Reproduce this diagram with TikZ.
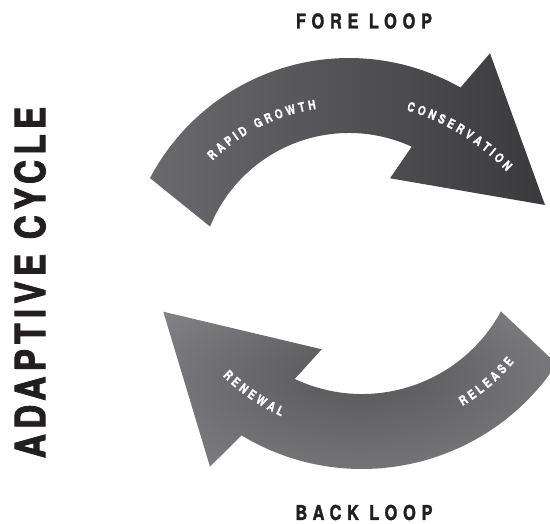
\documentclass[tikz,border=0pt]{standalone}
\usepackage{fontspec}
\usetikzlibrary{decorations.text}
\newfontfamily\titlefont[FakeStretch=0.8,LetterSpace=28,FakeBold=1.5]{TeX Gyre Heros}
\newfontfamily\sidefont[FakeStretch=0.8,LetterSpace=12.5,FakeBold=2]{TeX Gyre Heros}
\newfontfamily\lblfont[FakeStretch=0.8,FakeBold=1.2]{TeX Gyre Heros}
\newcommand\lblfmt{\lblfont\bfseries\fontsize{12.8}{14}\selectfont\kern3.3pt}
\definecolor{ua}{RGB}{106,106,110}
\definecolor{ub}{RGB}{58,58,60}
\definecolor{la}{RGB}{154,154,158}
\definecolor{ld}{RGB}{94,94,97}
\definecolor{ink}{RGB}{35,31,32}
\pgfdeclareradialshading{lowshade}{\pgfpoint{0bp}{10bp}}{color(0bp)=(ld); color(6bp)=(ld); color(50bp)=(la)}
\begin{document}
\begin{tikzpicture}[x=1pt,y=1pt,
  titlestyle/.style={inner sep=0pt,text=ink,font=\titlefont\bfseries\fontsize{20.5}{22}\selectfont},
  sidestyle/.style={inner sep=0pt,text=ink,rotate=90,font=\sidefont\bfseries\fontsize{41.8}{46}\selectfont},
  lbltext/.style={decorate,decoration={text along path,text color=white,text align=center,text={#1}}}]
\useasboundingbox (0,0) rectangle (550,524);
\clip (0,0) rectangle (550,524);
% upper arrow (fore loop)
\shade[left color=ua,right color=ub]
  (150.0,345.9) arc[start angle=152.2,end angle=60.3,radius=225pt]
  -- (490,470.7) -- (545,319) -- (390,345.7) -- (411.7,377.3)
  arc[start angle=65.3,end angle=157.9,radius=150pt] -- cycle;
% lower arrow (back loop)
\shade[shading=lowshade]
  (500.9,212.6) arc[start angle=-28.5,end angle=-115.2,radius=158pt]
  -- (321.7,174.7) -- (163.3,212.3) -- (210,57.3) -- (241.5,88.6)
  arc[start angle=-121.15,end angle=-33.3,radius=233pt] -- cycle;
% labels along the arrows
\coordinate (rgc) at (344.5,228.6);
\coordinate (cvc) at (344,199);
\coordinate (lwc) at (362,288);
\path[lbltext={|\lblfmt|RAPID GROWTH}] (rgc) ++(150:188.5pt) arc[start angle=150,end angle=84,radius=188.5pt];
\path[lbltext={|\lblfmt|CONSERVATION}] (cvc) ++(92:223.5pt) arc[start angle=92,end angle=26,radius=223.5pt];
\path[lbltext={|\lblfmt|RENEWAL}] (lwc) ++(205:197.5pt) arc[start angle=205,end angle=265,radius=197.5pt];
\path[lbltext={|\lblfmt|RELEASE}] (lwc) ++(280:197.5pt) arc[start angle=280,end angle=340,radius=197.5pt];
% titles
\node[titlestyle] (fore) at (364,503) {FORE LOOP};
\node[titlestyle] (back) at (364,11.5) {BACK LOOP};
\node[sidestyle] (adaptive) at (30,241.5) {ADAPTIVE CYCLE};
\end{tikzpicture}
\end{document}
